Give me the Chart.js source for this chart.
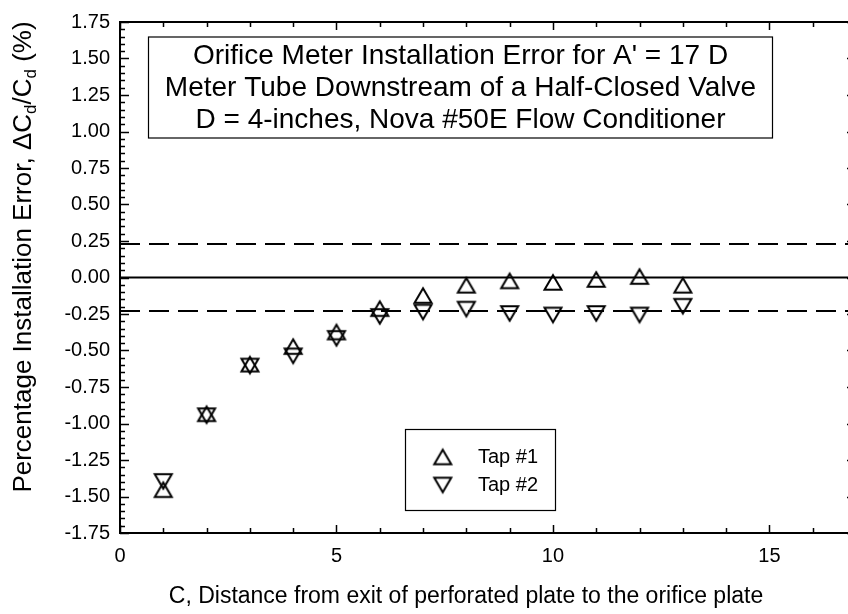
<!DOCTYPE html>
<html><head><meta charset="utf-8">
<script src="https://cdn.jsdelivr.net/npm/chart.js@4.4.0/dist/chart.umd.min.js"></script>
<style>
html,body{margin:0;padding:0;background:#fff;overflow:hidden;width:848px;height:614px}
#wrap{width:870px;height:614px}
</style></head>
<body><div id="wrap"><canvas id="c" width="870" height="614"></canvas></div>
<script>
// ---- data ----
const distances = [1, 2, 3, 4, 5, 6, 7, 8, 9, 10, 11, 12, 13];
const tap1 = [-1.45, -0.93, -0.59, -0.47, -0.37, -0.21, -0.12, -0.05, -0.02, -0.03, -0.01, 0.01, -0.05];
const tap2 = [-1.40, -0.95, -0.61, -0.54, -0.42, -0.27, -0.24, -0.22, -0.25, -0.26, -0.25, -0.26, -0.20];
const toleranceBand = 0.23;
const xRange = [0, 17];
const yRange = [-1.75, 1.75];
const xTickValues = [0, 5, 10, 15];
const yTickValues = [-1.75, -1.5, -1.25, -1.0, -0.75, -0.5, -0.25, 0, 0.25, 0.5, 0.75, 1.0, 1.25, 1.5, 1.75];
const titleLines = [
  "Orifice Meter Installation Error for A' = 17 D",
  "Meter Tube Downstream of a Half-Closed Valve",
  "D = 4-inches, Nova #50E Flow Conditioner"
];
const legendLabels = ["Tap #1", "Tap #2"];
const xTitle = "C, Distance from exit of perforated plate to the orifice plate";
// y title pieces: [text, isSubscript]
const yTitleParts = [["Percentage Installation Error, \u0394C", false], ["d", true], ["/C", false], ["d", true], [" (%)", false]];

const FONT = "'Liberation Sans', Arial, Helvetica, sans-serif";

function makeTri(up) {
  const c = document.createElement('canvas');
  c.width = 24; c.height = 22;
  const g = c.getContext('2d');
  g.strokeStyle = '#000'; g.lineWidth = 2; g.lineJoin = 'miter';
  g.beginPath();
  if (up) { g.moveTo(12, 4.15); g.lineTo(20.5, 18.85); g.lineTo(3.5, 18.85); }
  else { g.moveTo(12, 17.85); g.lineTo(20.5, 3.15); g.lineTo(3.5, 3.15); }
  g.closePath(); g.stroke();
  return c;
}
const triUp = makeTri(true), triDown = makeTri(false);

const decorPlugin = {
  id: 'decor',
  afterDraw(chart) {
    const ctx = chart.ctx, a = chart.chartArea;
    const xs = chart.scales.x, ys = chart.scales.y;
    ctx.save();
    // frame
    ctx.strokeStyle = '#000'; ctx.lineWidth = 2;
    ctx.strokeRect(a.left, a.top, a.right - a.left, a.bottom - a.top);
    // ticks
    ctx.lineWidth = 1.5;
    ctx.beginPath();
    for (let i = 0; i <= 70; i++) {
      const v = yRange[0] + i * 0.05;
      const py = Math.round(ys.getPixelForValue(v)) + 0.5;
      const len = (i % 5 === 0) ? 9 : 5;
      ctx.moveTo(a.left, py); ctx.lineTo(a.left + len, py);
      ctx.moveTo(a.right, py); ctx.lineTo(a.right - len, py);
    }
    for (let v = xRange[0]; v <= xRange[1]; v++) {
      const px = Math.round(xs.getPixelForValue(v)) + 0.5;
      const len = (v % 5 === 0) ? 8 : 5;
      ctx.moveTo(px, a.bottom); ctx.lineTo(px, a.bottom - len);
      ctx.moveTo(px, a.top); ctx.lineTo(px, a.top + len);
    }
    ctx.stroke();

    // title box
    ctx.lineWidth = 1.2;
    ctx.fillStyle = '#fff';
    ctx.fillRect(148.5, 37, 624, 101);
    ctx.strokeRect(148.5, 37, 624, 101);
    ctx.fillStyle = '#000';
    ctx.font = '28px ' + FONT;
    ctx.textAlign = 'center'; ctx.textBaseline = 'middle';
    const ly = [56, 88, 120];
    titleLines.forEach((t, i) => ctx.fillText(t, 460.5, ly[i]));

    // legend box
    ctx.fillStyle = '#fff';
    ctx.fillRect(405.5, 429.5, 150, 81);
    ctx.strokeRect(405.5, 429.5, 150, 81);
    ctx.fillStyle = '#000';
    ctx.drawImage(triUp, 442.7 - 12, 456.5 - 11);
    ctx.drawImage(triDown, 442.7 - 12, 485.5 - 11);
    ctx.font = '20px ' + FONT;
    ctx.textAlign = 'left';
    ctx.fillText(legendLabels[0], 478, 457);
    ctx.fillText(legendLabels[1], 478, 485);

    // x title
    ctx.font = '23px ' + FONT;
    ctx.textAlign = 'center';
    ctx.fillText(xTitle, 466, 597);

    // y title (rotated, with subscripts)
    ctx.translate(24, 257);
    ctx.rotate(-Math.PI / 2);
    const big = '26px ' + FONT, small = '17px ' + FONT;
    let total = 0;
    yTitleParts.forEach(([t, sub]) => { ctx.font = sub ? small : big; total += ctx.measureText(t).width; });
    let x = -total / 2;
    ctx.textAlign = 'left';
    yTitleParts.forEach(([t, sub]) => {
      ctx.font = sub ? small : big;
      ctx.fillText(t, x, sub ? 7 : 0);
      x += ctx.measureText(t).width;
    });
    ctx.restore();
  }
};

const lineStyle = { borderColor: '#000', borderWidth: 2, pointRadius: 0, showLine: true, fill: false, order: 2 };

new Chart(document.getElementById('c'), {
  type: 'scatter',
  data: {
    datasets: [
      { label: legendLabels[0], data: distances.map((d, i) => ({ x: d, y: tap1[i] })),
        pointStyle: triUp, pointRadius: 10, order: 0 },
      { label: legendLabels[1], data: distances.map((d, i) => ({ x: d, y: tap2[i] })),
        pointStyle: triDown, pointRadius: 10, order: 0 },
      Object.assign({ label: 'zero', data: [{ x: xRange[0], y: 0 }, { x: xRange[1], y: 0 }] }, lineStyle),
      Object.assign({ label: 'upper', data: [{ x: xRange[0], y: toleranceBand }, { x: xRange[1], y: toleranceBand }], borderDash: [20, 9] }, lineStyle),
      Object.assign({ label: 'lower', data: [{ x: xRange[0], y: -toleranceBand }, { x: xRange[1], y: -toleranceBand }], borderDash: [20, 9] }, lineStyle)
    ]
  },
  options: {
    responsive: false,
    devicePixelRatio: 1,
    animation: false,
    layout: { padding: { left: 0, top: 17, right: 14, bottom: 0 } },
    plugins: { legend: { display: false }, title: { display: false }, tooltip: { enabled: false } },
    scales: {
      x: {
        type: 'linear', min: xRange[0], max: xRange[1],
        grid: { display: false, drawTicks: false }, border: { display: false },
        afterBuildTicks: s => { s.ticks = xTickValues.map(v => ({ value: v })); },
        ticks: { color: '#000', font: { family: FONT, size: 20 }, padding: 11, maxRotation: 0, autoSkip: false,
                 callback: v => String(v) },
        afterFit: s => { s.height = 81; }
      },
      y: {
        type: 'linear', min: yRange[0], max: yRange[1],
        grid: { display: false, drawTicks: false }, border: { display: false },
        afterBuildTicks: s => { s.ticks = yTickValues.map(v => ({ value: v })); },
        ticks: { color: '#000', font: { family: FONT, size: 20 }, padding: 10, autoSkip: false,
                 callback: v => Number(v).toFixed(2) },
        afterFit: s => { s.width = 120; }
      }
    }
  },
  plugins: [decorPlugin]
});
</script>
</body></html>
